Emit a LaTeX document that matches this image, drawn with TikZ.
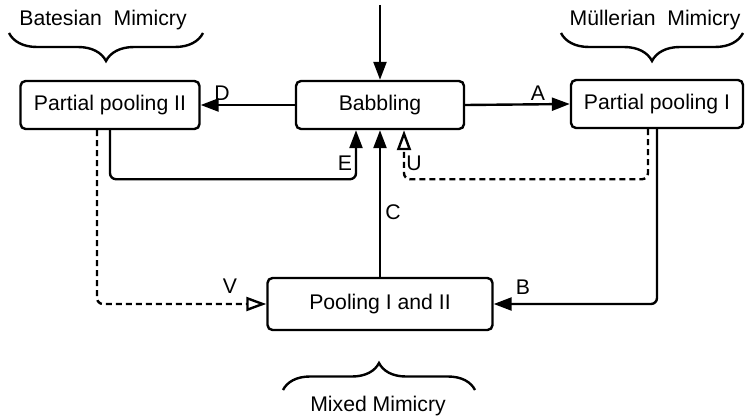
\documentclass[tikz,border=0pt]{standalone}
\usepackage{fontspec}
\setmainfont{Liberation Sans}
\usepackage{tikz}
\usetikzlibrary{arrows.meta,decorations.pathreplacing,calc}

\begin{document}
\begin{tikzpicture}[x=0.5pt,y=-0.5pt,line width=1.2pt,
	font=\fontsize{10.6}{12.7}\selectfont,
	etat/.style={draw,rounded corners=2.5pt,minimum height=24pt,inner sep=0pt},
	plein/.style={-{Triangle[length=9pt,width=6.5pt]}},
	vide/.style={-{Triangle[open,length=10pt,width=7pt]},dash pattern=on 3pt off 2pt},
	accolade/.style={decorate,decoration={brace,amplitude=14pt}}]
	\useasboundingbox (0,0) rectangle (747,417);
	
	\node[etat,minimum width=89.5pt] (ppII) at (110,105){Partial pooling II};
	\node[etat,minimum width=84pt] (babb) at (380,105){Babbling};
	\node[etat,minimum width=86pt] (ppI) at (657,104){Partial pooling I};
	\node[etat,minimum width=112.5pt,minimum height=26pt] (pool) at (380,304){Pooling I and II};
	
	\coordinate (src) at (380,5);
	\draw[plein] (src) -- (babb.north);
	\draw[plein] (babb.west) -- (ppII.east);
	\draw[plein] (babb.east) -- (ppI.west);
	\draw[plein] (pool.north) -- (babb.south);
	\draw[plein,rounded corners=3pt] (ppII.south) -- ++(0,49) -| ([xshift=-12pt]babb.south);
	\draw[vide,rounded corners=3pt] ([xshift=-4.5pt]ppI.south) -- ++(0,50) -| ([xshift=12pt]babb.south);
	\draw[plein,rounded corners=3pt] (ppI.south) |- (pool.east);
	\draw[vide,rounded corners=3pt] ([xshift=-6.5pt]ppII.south) |- (pool.west);
	
	\node (lD) at (222,93){D};
	\node (lA) at (538,93){A};
	\node (lE) at (345,163){E};
	\node (lU) at (414,163){U};
	\node (lC) at (393,212){C};
	\node (lV) at (230,286){V};
	\node (lB) at (523,287){B};
	
	\draw[accolade] (203,33) -- (9,33);
	\node (bates) at (103,20){Batesian\ \ Mimicry};
	\draw[accolade] (743,33) -- (561,33);
	\node (muller) at (655,20){Müllerian\ \ Mimicry};
	\draw[accolade,decoration={amplitude=13.5pt}] (283,390) -- (475,390);
	\node (mixed) at (378,406){Mixed Mimicry};
\end{tikzpicture}
\end{document}
